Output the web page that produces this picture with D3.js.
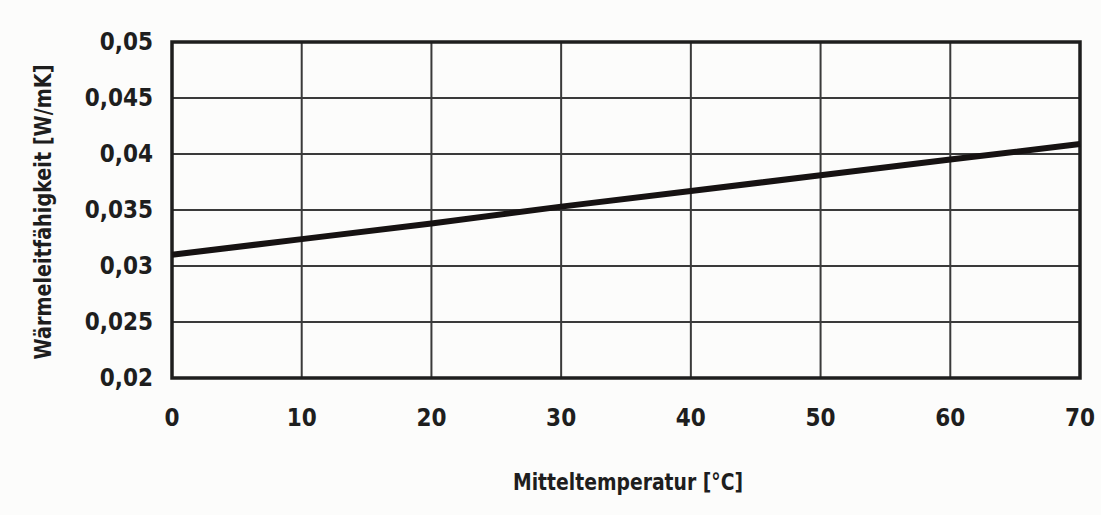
<!DOCTYPE html>
<html>
<head>
<meta charset="utf-8">
<script src="https://cdn.jsdelivr.net/npm/d3@7"></script>
<style>
  html, body { margin: 0; padding: 0; background: #fcfcfb; }
  #chart text { font-family: "DejaVu Sans Condensed", "DejaVu Sans", sans-serif; font-stretch: condensed; font-weight: bold; fill: #1e1e1e; }
</style>
</head>
<body>
<div id="chart"></div>
<script>
// Thermal conductivity vs. mean temperature
const temperatures = [0, 10, 20, 30, 40, 50, 60, 70];
const conductivity = [0.031, 0.0324, 0.0338, 0.0353, 0.0367, 0.0381, 0.0395, 0.0409];
const xTicks = [0, 10, 20, 30, 40, 50, 60, 70];
const yTicks = [0.02, 0.025, 0.03, 0.035, 0.04, 0.045, 0.05];
const xTitle = 'Mitteltemperatur [°C]';
const yTitle = 'Wärmeleitfähigkeit [W/mK]';

(function() {
  const W = 1101, H = 515;
  const margin = { top: 42, right: 21, bottom: 137, left: 172 };
  const width = W - margin.left - margin.right;
  const height = H - margin.top - margin.bottom;

  const svg = d3.select('#chart')
    .append('svg')
    .attr('width', W)
    .attr('height', H);

  const g = svg.append('g')
    .attr('transform', `translate(${margin.left}, ${margin.top})`);

  const x = d3.scaleLinear().domain([0, 70]).range([0, width]);
  const y = d3.scaleLinear().domain([0.02, 0.05]).range([height, 0]);

  const fmt = d => String(+d.toFixed(3)).replace('.', ',');

  // Grid lines
  g.append('g')
    .selectAll('line')
    .data(xTicks)
    .enter()
    .append('line')
    .attr('x1', d => x(d))
    .attr('x2', d => x(d))
    .attr('y1', 0)
    .attr('y2', height)
    .attr('stroke', '#3a3a3a')
    .attr('stroke-width', 2);

  g.append('g')
    .selectAll('line')
    .data(yTicks)
    .enter()
    .append('line')
    .attr('x1', 0)
    .attr('x2', width)
    .attr('y1', d => y(d))
    .attr('y2', d => y(d))
    .attr('stroke', '#3a3a3a')
    .attr('stroke-width', 2);

  // Frame
  g.append('rect')
    .attr('x', 0)
    .attr('y', 0)
    .attr('width', width)
    .attr('height', height)
    .attr('fill', 'none')
    .attr('stroke', '#1e1e1e')
    .attr('stroke-width', 3.5);

  // Data line
  const line = d3.line()
    .x((d, i) => x(temperatures[i]))
    .y(d => y(d));

  g.append('path')
    .datum(conductivity)
    .attr('d', line)
    .attr('fill', 'none')
    .attr('stroke', '#161212')
    .attr('stroke-width', 6);

  // Tick labels
  g.append('g')
    .selectAll('text')
    .data(yTicks)
    .enter()
    .append('text')
    .attr('x', -19)
    .attr('y', d => y(d))
    .attr('text-anchor', 'end')
    .attr('dominant-baseline', 'central')
    .style('font-size', '24px')
    .text(fmt);

  g.append('g')
    .selectAll('text')
    .data(xTicks)
    .enter()
    .append('text')
    .attr('x', d => x(d))
    .attr('y', height + 40)
    .attr('text-anchor', 'middle')
    .attr('dominant-baseline', 'central')
    .style('font-size', '24px')
    .text(d => d);

  // Axis titles
  svg.append('text')
    .attr('x', margin.left + width / 2 + 2)
    .attr('y', 482)
    .attr('text-anchor', 'middle')
    .attr('dominant-baseline', 'central')
    .style('font-size', '23px')
    .attr('textLength', 230)
    .attr('lengthAdjust', 'spacingAndGlyphs')
    .text(xTitle);

  svg.append('text')
    .attr('transform', `translate(43, ${margin.top + 170}) rotate(-90)`)
    .attr('text-anchor', 'middle')
    .attr('dominant-baseline', 'central')
    .style('font-size', '23px')
    .attr('textLength', 295)
    .attr('lengthAdjust', 'spacingAndGlyphs')
    .text(yTitle);
})();
</script>
</body>
</html>
